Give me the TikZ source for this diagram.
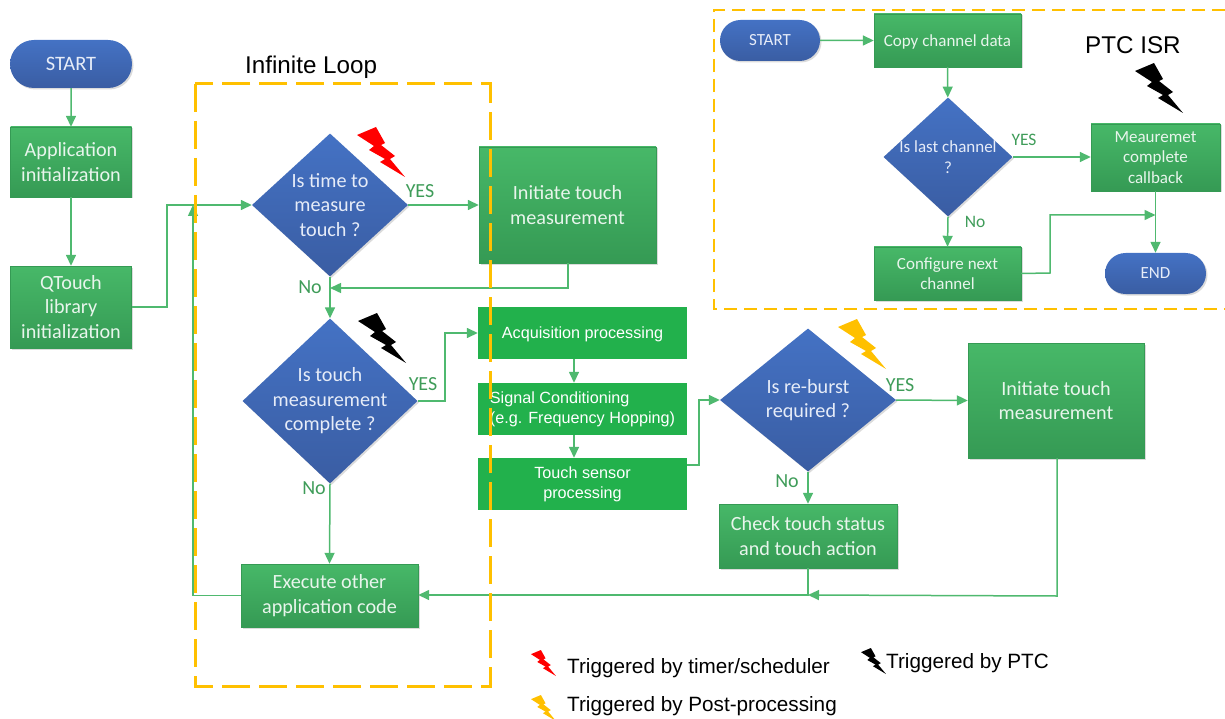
\documentclass[tikz,border=0pt]{standalone}
\usepackage{fontspec}
\setmainfont{Carlito}
\newfontfamily\arialf{Liberation Sans}
\usetikzlibrary{shapes.geometric,shapes.misc,arrows.meta,shadows,calc}
\definecolor{gtop}{HTML}{47B868}
\definecolor{gbot}{HTML}{359A54}
\definecolor{btop}{HTML}{4472C4}
\definecolor{bbot}{HTML}{3A5DA3}
\definecolor{pure}{HTML}{22B14C}
\definecolor{linkc}{HTML}{4FB96F}
\definecolor{labc}{HTML}{3F9C59}
\definecolor{dashc}{HTML}{FFC000}
\definecolor{txtc}{HTML}{E8F5EC}
\definecolor{txtb}{HTML}{E6ECF8}
\tikzset{
 softshadow/.style={drop shadow={opacity=.14,shadow xshift=1.5pt,shadow yshift=-1.5pt,fill=black}},
 gbox/.style={rectangle,softshadow,top color=gtop,bottom color=gbot,draw=gbot,line width=.4pt,text=txtc,align=center,inner sep=0pt,font=\fontsize{20.2}{24.5}\selectfont},
 gsmall/.style={gbox,font=\fontsize{17}{20.5}\selectfont},
 pbox/.style={rectangle,fill=pure,text=white,inner sep=0pt,font=\arialf\fontsize{16.2}{20}\selectfont,minimum width=209,minimum height=52},
 term/.style={rounded rectangle,softshadow,top color=btop,bottom color=bbot,text=txtb,inner sep=0pt},
 dia/.style={diamond,softshadow,top color=btop,bottom color=bbot,inner sep=0pt,aspect=1},
 ctext/.style={align=center,text=txtb,inner sep=0pt,font=\fontsize{20.2}{24.5}\selectfont},
 link/.style={draw=linkc,line width=1.5pt,-{Triangle[length=11pt,width=10pt]}},
 plain/.style={draw=linkc,line width=1.5pt},
 lab/.style={text=labc,inner sep=0pt,font=\fontsize{20}{22}\selectfont},
 labs/.style={lab,font=\fontsize{17.5}{20}\selectfont},
 blk/.style={text=black,inner sep=0pt,anchor=west,font=\arialf\fontsize{20.7}{22}\selectfont},
 ttl/.style={blk,font=\arialf\fontsize{24.2}{26}\selectfont},
 loopdash/.style={draw=dashc,line width=3pt,dash pattern=on 28pt off 9pt},
 isrdash/.style={draw=dashc,line width=2.4pt,dash pattern=on 13pt off 7pt},
}
\newcommand{\zap}[4]{\begin{scope}[shift={(#1,#2)},scale=#3]
 \fill[#4] (0,8)--(19,0)--(28,16)--(24,18)--(38,29)--(33,32)--(48,50)--(23,35)--(28,32)--(12,23)--(17,19)--cycle;
\end{scope}}
\begin{document}
\begin{tikzpicture}[x=1pt,y=-1pt]
\useasboundingbox (0,0) rectangle (1225,719);
% left column
\node[term,minimum width=122,minimum height=48,font=\fontsize{20.5}{22}\selectfont] (start) at (71,64) {START};
\node[gbox,minimum width=121,minimum height=70] (app) at (71,162) {Application\\initialization};
\node[gbox,minimum width=121,minimum height=82] (qt) at (71,307) {QTouch\\library\\initialization};
% diamonds
\node[dia,minimum width=156,minimum height=143,label={[ctext]center:Is time to\\measure\\touch ?}] (d1) at (330,205) {};
\node[gbox,minimum width=177,minimum height=116] (init1) at (567.5,205) {Initiate touch\\measurement};
\node[dia,minimum width=175,minimum height=165,label={[ctext]center:Is touch\\measurement\\complete ?}] (d2) at (330,401) {};
\node[gbox,minimum width=177,minimum height=63] (exec) at (329.5,595.5) {Execute other\\application code};
% processing
\node[pbox,text depth=0pt] (acq) at (582.5,333) {Acquisition processing};
\node[pbox,align=left] (sig) at (582.5,409) {Signal Conditioning\\(e.g. Frequency Hopping)};
\node[pbox,align=center,font=\arialf\fontsize{16.2}{20}\selectfont] (tsp) at (582.5,484) {Touch sensor\\processing};
% re-burst
\node[dia,minimum width=176,minimum height=143,label={[ctext]center:Is re-burst\\required ?}] (d3) at (808,400) {};
\node[gbox,minimum width=176,minimum height=115] (init2) at (1056,400.5) {Initiate touch\\measurement};
\node[gbox,minimum width=178,minimum height=64] (chk) at (808,536) {Check touch status\\and touch action};
% ISR
\node[term,minimum width=100,minimum height=41,font=\fontsize{17}{18}\selectfont] (istart) at (770,40.5) {START};
\node[gsmall,minimum width=147,minimum height=53,text depth=0pt] (copy) at (947.5,40.5) {Copy channel data};
\node[dia,minimum width=129,minimum height=119,label={[ctext,font=\fontsize{17}{20.5}\selectfont]center:Is last channel\\?}] (d4) at (948,157) {};
\node[gsmall,minimum width=129,minimum height=67] (meas) at (1155.5,157.5) {Meauremet\\complete\\callback};
\node[gsmall,minimum width=147,minimum height=53] (cfg) at (947.5,273.5) {Configure next\\channel};
\node[term,minimum width=101,minimum height=41,font=\fontsize{17}{18}\selectfont] (iend) at (1155.5,273.5) {END};
% free corners
\coordinate (j1) at (193,205);
\coordinate (j2) at (330,288);
\coordinate (j3) at (808,595);
\coordinate (j4) at (1155.5,215);
% connectors
\draw[link] (start) -- (app);
\draw[link] (app) -- (qt);
\draw[plain] (qt.east) -- (167,307) -- (167,205) -- (j1);
\draw[link] (j1) -- (d1.west);
\draw[link] (exec.west) -| (j1);
\draw[link] (d1.east) -- (d1.east -| init1.west);
\draw[link] (568,263) -- (568,288) -- (j2);
\draw[link] (d1.south) -- (d2.north);
\draw[link] (d2.east) -- (445,401) -- (445,333) -- (acq.west);
\draw[link] (d2.south) -- (exec.north);
\draw[link] (acq.south -| 574,0) -- (sig.north -| 574,0);
\draw[link] (sig.south -| 574,0) -- (tsp.north -| 574,0);
\draw[link] (687,465) -- (699,465) -- (699,400) -- (d3.west);
\draw[link] (d3.east) -- (init2.west);
\draw[link] (d3.south) -- (chk.north);
\draw[link] (chk.south) -- (j3) -- (exec.east |- j3);
\draw[link] (1057,458) -- (1057,596) -- (j3);
\draw[link] (istart) -- (copy);
\draw[link] (copy) -- (d4);
\draw[link] (d4.east) -- (meas.west |- d4.east);
\draw[link] (d4.south) -- (cfg.north);
\draw[link] (cfg.east) -- (1050,273) -- (1050,215) -- (j4);
\draw[link] (meas.south) -- (iend.north);
% labels
\node[lab] (ly1) at (420,191) {YES};
\node[lab] (ln1) at (310,287) {No};
\node[lab] (ly2) at (423,384) {YES};
\node[lab] (ln2) at (314,488) {No};
\node[lab] (ly3) at (900,385) {YES};
\node[lab] (ln3) at (787,481) {No};
\node[labs] (ly4) at (1024,140) {YES};
\node[labs] (ln4) at (975,222) {No};
% bolts
\zap{357}{127}{1}{red}
\zap{358}{313}{1}{black}
\zap{838}{319}{1}{dashc}
\zap{1135}{63}{1}{black}
\zap{531}{650}{.52}{red}
\zap{531}{695}{.52}{dashc}
\zap{861}{648}{.52}{black}
% titles and legend
\node[ttl] (tl) at (245,67) {Infinite Loop};
\node[ttl] (tp) at (1085,45) {PTC ISR};
\node[blk] (l1) at (567,668) {Triggered by timer/scheduler};
\node[blk] (l2) at (567,706) {Triggered by Post-processing};
\node[blk] (l3) at (886,663) {Triggered by PTC};
% dashed frames
\draw[loopdash] (195,84) rectangle (490,686);
\draw[isrdash] (1225,10) -- (714,10) -- (714,309) -- (1225,309);
\end{tikzpicture}
\end{document}
